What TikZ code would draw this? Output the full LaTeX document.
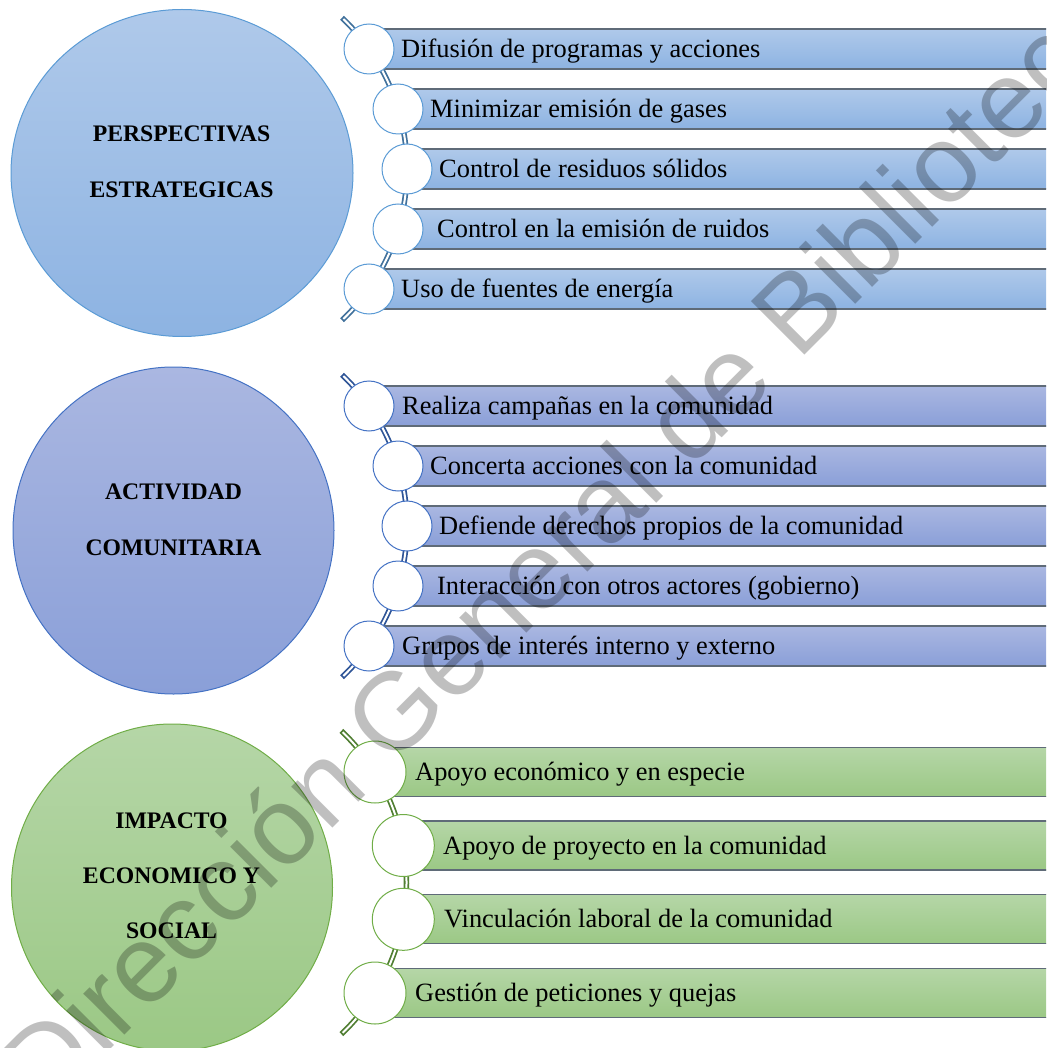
\documentclass[tikz,border=0pt]{standalone}
\usepackage{fontspec}
\setmainfont{Liberation Serif}
\newfontfamily\wmfont{Liberation Sans}
\usetikzlibrary{shapes.geometric}

\definecolor{b1top}{HTML}{AFC9EA}
\definecolor{b1bot}{HTML}{8DB3E2}
\definecolor{b1line}{HTML}{5B9BD5}
\definecolor{b1arc}{HTML}{41719C}
\definecolor{b2top}{HTML}{AAB7E1}
\definecolor{b2bot}{HTML}{8A9FD8}
\definecolor{b2line}{HTML}{4472C4}
\definecolor{b2arc}{HTML}{2F5597}
\definecolor{g3top}{HTML}{B5D6A7}
\definecolor{g3bot}{HTML}{9BC885}
\definecolor{g3line}{HTML}{70AD47}
\definecolor{g3arc}{HTML}{507E32}
\definecolor{barline}{HTML}{5F6B78}

\tikzset{
  bigc/.style={ellipse, inner sep=0pt, line width=1pt},
  barbox/.style={rectangle, draw=barline, line width=1.2pt, anchor=west, inner sep=0pt},
  knob/.style={circle, fill=white, line width=1pt, inner sep=0pt},
  item/.style={anchor=base west, inner sep=0pt, font=\fontsize{26.4}{30}\selectfont},
  head/.style={anchor=base, inner sep=0pt, font=\fontsize{23.7}{28}\selectfont\bfseries},
  arcout/.style={line width=5.5pt},
  arcin/.style={line width=2pt, draw=white},
  wm/.style={anchor=base west, inner sep=0pt, text=black, text opacity=0.25,
    font=\wmfont\fontsize{110}{110}\selectfont}
}

\begin{document}
\begin{tikzpicture}[x=1pt,y=-1pt]
\useasboundingbox (0,0) rectangle (1046,1048);
\clip (0,0) rectangle (1046,1048);

% ---------- group 1 ----------
\node[bigc, draw=b1line, top color=b1top, bottom color=b1bot,
      minimum width=342pt, minimum height=327pt] (c1) at (182,173) {};
\node[head] (h1a) at (181.5,141.7) {PERSPECTIVAS};
\node[head] (h1b) at (181.5,197.3) {ESTRATEGICAS};

\coordinate (o1) at (198.5,169);
\draw[arcout, b1arc] ([shift={(46.5:208.5pt)}]o1) arc[start angle=46.5, end angle=-46.5, radius=208.5pt];
\draw[arcin] ([shift={(46.0:208.5pt)}]o1) arc[start angle=46.0, end angle=-46.0, radius=208.5pt];

\node[barbox, top color=b1top, bottom color=b1bot, minimum width=690pt, minimum height=40pt] (r11) at (369,49) {};
\node[barbox, top color=b1top, bottom color=b1bot, minimum width=660pt, minimum height=40pt] (r12) at (398,109) {};
\node[barbox, top color=b1top, bottom color=b1bot, minimum width=650pt, minimum height=40pt] (r13) at (407,169) {};
\node[barbox, top color=b1top, bottom color=b1bot, minimum width=660pt, minimum height=40pt] (r14) at (398,229) {};
\node[barbox, top color=b1top, bottom color=b1bot, minimum width=690pt, minimum height=40pt] (r15) at (369,289) {};

\node[knob, draw=b1line, minimum size=50pt] (k11) at (369,49) {};
\node[knob, draw=b1line, minimum size=50pt] (k12) at (398,109) {};
\node[knob, draw=b1line, minimum size=50pt] (k13) at (407,169) {};
\node[knob, draw=b1line, minimum size=50pt] (k14) at (398,229) {};
\node[knob, draw=b1line, minimum size=50pt] (k15) at (369,289) {};

\node[item] (t11) at (401,57.3) {Difusión de programas y acciones};
\node[item] (t12) at (430,117.3) {Minimizar emisión de gases};
\node[item] (t13) at (439,177.3) {Control de residuos sólidos};
\node[item] (t14) at (437,237.3) {Control en la emisión de ruidos};
\node[item] (t15) at (401,297.3) {Uso de fuentes de energía};

% ---------- group 2 ----------
\node[bigc, draw=b2line, top color=b2top, bottom color=b2bot,
      minimum width=321pt, minimum height=327pt] (c2) at (173.5,530.5) {};
\node[head] (h2a) at (173.5,499.3) {ACTIVIDAD};
\node[head] (h2b) at (173.5,555) {COMUNITARIA};

\coordinate (o2) at (198.5,526);
\draw[arcout, b2arc] ([shift={(46.5:208.5pt)}]o2) arc[start angle=46.5, end angle=-46.5, radius=208.5pt];
\draw[arcin] ([shift={(46.0:208.5pt)}]o2) arc[start angle=46.0, end angle=-46.0, radius=208.5pt];

\node[barbox, top color=b2top, bottom color=b2bot, minimum width=690pt, minimum height=40pt] (r21) at (369,406) {};
\node[barbox, top color=b2top, bottom color=b2bot, minimum width=660pt, minimum height=40pt] (r22) at (398,466) {};
\node[barbox, top color=b2top, bottom color=b2bot, minimum width=650pt, minimum height=40pt] (r23) at (407,526) {};
\node[barbox, top color=b2top, bottom color=b2bot, minimum width=660pt, minimum height=40pt] (r24) at (398,586) {};
\node[barbox, top color=b2top, bottom color=b2bot, minimum width=690pt, minimum height=40pt] (r25) at (369,646) {};

\node[knob, draw=b2line, minimum size=50pt] (k21) at (369,406) {};
\node[knob, draw=b2line, minimum size=50pt] (k22) at (398,466) {};
\node[knob, draw=b2line, minimum size=50pt] (k23) at (407,526) {};
\node[knob, draw=b2line, minimum size=50pt] (k24) at (398,586) {};
\node[knob, draw=b2line, minimum size=50pt] (k25) at (369,646) {};

\node[item] (t21) at (402,414.3) {Realiza campañas en la comunidad};
\node[item] (t22) at (430,474.3) {Concerta acciones con la comunidad};
\node[item] (t23) at (439,534.3) {Defiende derechos propios de la comunidad};
\node[item] (t24) at (437,594.3) {Interacción con otros actores (gobierno)};
\node[item] (t25) at (402,654.3) {Grupos de interés interno y externo};

% ---------- group 3 ----------
\node[bigc, draw=g3line, top color=g3top, bottom color=g3bot,
      minimum width=321pt, minimum height=327pt] (c3) at (172,887.5) {};
\node[head] (h3a) at (171.5,828.3) {IMPACTO};
\node[head] (h3b) at (171.5,883.5) {ECONOMICO Y};
\node[head] (h3c) at (171.5,938) {SOCIAL};

\coordinate (o3) at (197.5,882.5);
\draw[arcout, g3arc] ([shift={(46.5:209pt)}]o3) arc[start angle=46.5, end angle=-46.5, radius=209pt];
\draw[arcin] ([shift={(46.0:209pt)}]o3) arc[start angle=46.0, end angle=-46.0, radius=209pt];

\node[barbox, top color=g3top, bottom color=g3bot, minimum width=690pt, minimum height=49pt] (r31) at (375,772) {};
\node[barbox, top color=g3top, bottom color=g3bot, minimum width=660pt, minimum height=49pt] (r32) at (403.3,845.5) {};
\node[barbox, top color=g3top, bottom color=g3bot, minimum width=660pt, minimum height=49pt] (r33) at (403.3,919.3) {};
\node[barbox, top color=g3top, bottom color=g3bot, minimum width=690pt, minimum height=49pt] (r34) at (375,993) {};

\node[knob, draw=g3line, minimum size=62pt] (k31) at (375,772) {};
\node[knob, draw=g3line, minimum size=62pt] (k32) at (403.3,845.5) {};
\node[knob, draw=g3line, minimum size=62pt] (k33) at (403.3,919.3) {};
\node[knob, draw=g3line, minimum size=62pt] (k34) at (375,993) {};

\node[item] (t31) at (415,780.3) {Apoyo económico y en especie};
\node[item] (t32) at (443,854) {Apoyo de proyecto en la comunidad};
\node[item] (t33) at (444,927.8) {Vinculación laboral de la comunidad};
\node[item] (t34) at (415,1001.5) {Gestión de peticiones y quejas};

% ---------- watermark ----------
\node[wm, rotate=45] (wmk) at (46,1114) {Dirección General de Bibliotecas};
\end{tikzpicture}
\end{document}
